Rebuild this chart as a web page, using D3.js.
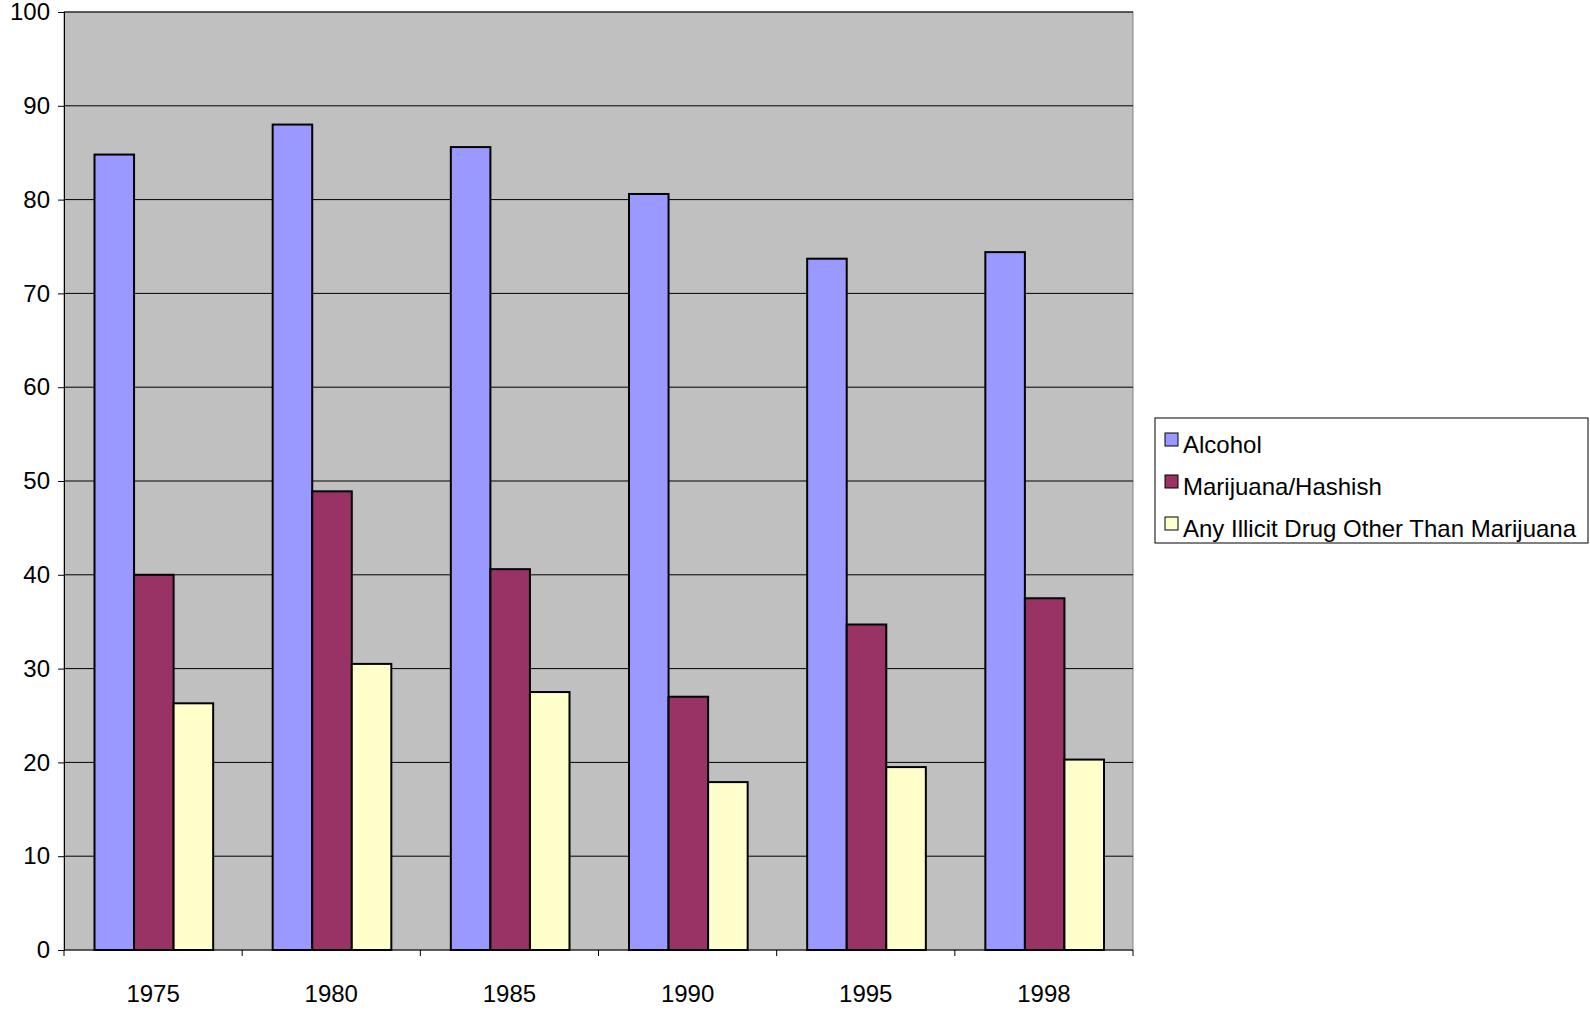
<!DOCTYPE html>
<html><head><meta charset="utf-8">
<script src="https://cdn.jsdelivr.net/npm/d3@7"></script>
<style>body{margin:0;background:#fff}text{font-family:"Liberation Sans",Arial,sans-serif}</style>
</head><body><div id="chart"></div>
<script>
const years = ["1975", "1980", "1985", "1990", "1995", "1998"];
const series = ["Alcohol", "Marijuana/Hashish", "Any Illicit Drug Other Than Marijuana"];
const alcohol = [84.8, 88.0, 85.6, 80.6, 73.7, 74.4];
const marijuana = [40.0, 48.9, 40.6, 27.0, 34.7, 37.5];
const other = [26.3, 30.5, 27.5, 17.9, 19.5, 20.3];
const colors = ["#9999ff", "#993366", "#ffffcc"];
const yTicks = d3.range(0, 101, 10);

const W = 1590, H = 1010;
const M = { top: 12, left: 64, right: 457, bottom: 60 };
const values = [alcohol, marijuana, other];

const svg = d3.select("#chart").append("svg").attr("width", W).attr("height", H);

const x0 = d3.scaleBand().domain(years).range([M.left, W - M.right]);
const x1 = d3.scaleBand().domain(d3.range(3)).range([30.5, x0.bandwidth() - 29]);
const y = d3.scaleLinear().domain([0, 100]).range([H - M.bottom, M.top]);

// plot background
svg.append("rect").attr("x", M.left).attr("y", M.top)
  .attr("width", W - M.left - M.right).attr("height", y(0) - M.top)
  .attr("fill", "#c0c0c0").attr("stroke", "#808080");

// gridlines
svg.append("g").selectAll("line").data(yTicks.slice(1)).join("line")
  .attr("x1", M.left).attr("x2", W - M.right)
  .attr("y1", d => y(d)).attr("y2", d => y(d))
  .attr("stroke", "#000").attr("stroke-width", 1);

// bars
years.forEach((yr, i) => {
  values.forEach((s, j) => {
    svg.append("rect")
      .attr("x", x0(yr) + x1(j)).attr("y", y(s[i]))
      .attr("width", x1.bandwidth()).attr("height", y(0) - y(s[i]))
      .attr("fill", colors[j]).attr("stroke", "#000").attr("stroke-width", 2);
  });
});

// y axis
const yAxis = svg.append("g").attr("transform", `translate(${M.left},0)`)
  .call(d3.axisLeft(y).tickValues(yTicks).tickSize(6).tickPadding(8));
yAxis.selectAll("text").style("font-size", "24px").attr("fill", "#000");
yAxis.select(".domain").attr("stroke", "#000");

// x axis
const xg = svg.append("g").attr("transform", `translate(0,${y(0)})`);
xg.append("line").attr("x1", M.left).attr("x2", W - M.right).attr("stroke", "#000");
xg.selectAll(".tk").data(years.map(d => x0(d)).concat([x0.range()[1]])).join("line")
  .attr("x1", d => d).attr("x2", d => d).attr("y1", 0).attr("y2", 6).attr("stroke", "#000");
xg.selectAll("text").data(years).join("text")
  .attr("x", d => x0(d) + x0.bandwidth() / 2).attr("y", 52)
  .attr("text-anchor", "middle").style("font-size", "24px").text(d => d);

// legend
const lg = svg.append("g").attr("transform", "translate(1155,418)");
lg.append("rect").attr("width", 433).attr("height", 125).attr("fill", "#fff").attr("stroke", "#000");
series.forEach((s, j) => {
  const g = lg.append("g").attr("transform", `translate(10,${15 + j * 42})`);
  g.append("rect").attr("width", 13).attr("height", 13).attr("fill", colors[j]).attr("stroke", "#000");
  g.append("text").attr("x", 18).attr("y", 20).style("font-size", "24px").text(s);
});
</script></body></html>
